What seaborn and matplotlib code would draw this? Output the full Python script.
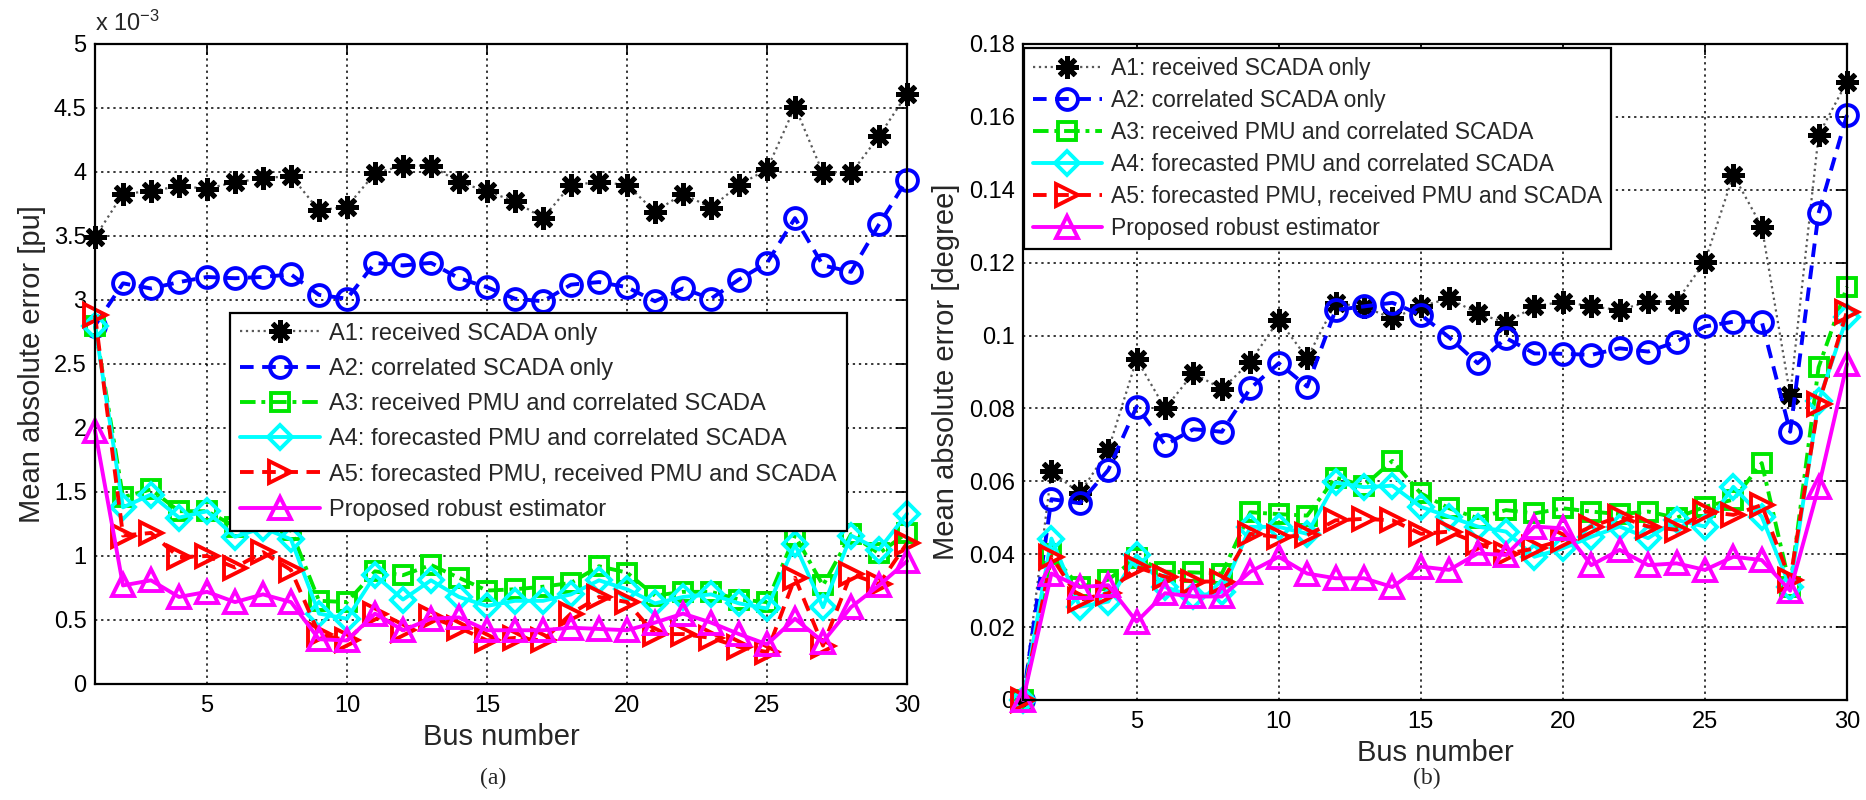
import numpy as np
import pandas as pd
import matplotlib
matplotlib.use("Agg")
import matplotlib.pyplot as plt
import matplotlib.ticker as mticker
import seaborn as sns

# ---------------- data ----------------
buses = list(range(1, 31))

labels = [
    "A1: received SCADA only",
    "A2: correlated SCADA only",
    "A3: received PMU and correlated SCADA",
    "A4: forecasted PMU and correlated SCADA",
    "A5: forecasted PMU, received PMU and SCADA",
    "Proposed robust estimator",
]

# (a) magnitude MAE, in units of 1e-3 pu
a1_pu = [3.49, 3.83, 3.85, 3.89, 3.87, 3.92, 3.95, 3.97, 3.70, 3.73, 3.99, 4.05, 4.05, 3.92, 3.85,
         3.77, 3.64, 3.90, 3.92, 3.90, 3.69, 3.83, 3.72, 3.90, 4.02, 4.51, 3.99, 3.99, 4.28, 4.61]
a2_pu = [2.80, 3.13, 3.09, 3.14, 3.18, 3.17, 3.18, 3.20, 3.04, 3.01, 3.29, 3.27, 3.29, 3.17, 3.10,
         3.01, 2.99, 3.12, 3.14, 3.10, 2.99, 3.09, 3.01, 3.16, 3.29, 3.64, 3.27, 3.22, 3.59, 3.94]
a3_pu = [2.80, 1.46, 1.52, 1.35, 1.35, 1.23, 1.27, 1.20, 0.65, 0.64, 0.88, 0.85, 0.93, 0.83, 0.73,
         0.74, 0.76, 0.79, 0.92, 0.87, 0.69, 0.72, 0.72, 0.66, 0.64, 1.16, 0.77, 1.17, 1.02, 1.18]
a4_pu = [2.80, 1.38, 1.48, 1.30, 1.35, 1.15, 1.22, 1.13, 0.55, 0.51, 0.85, 0.66, 0.81, 0.68, 0.61,
         0.65, 0.65, 0.70, 0.81, 0.74, 0.63, 0.68, 0.70, 0.63, 0.59, 1.09, 0.60, 1.16, 1.05, 1.33]
a5_pu = [2.88, 1.16, 1.18, 0.99, 1.00, 0.91, 1.03, 0.89, 0.39, 0.34, 0.55, 0.42, 0.52, 0.44, 0.34,
         0.36, 0.34, 0.55, 0.68, 0.64, 0.39, 0.39, 0.36, 0.29, 0.25, 0.83, 0.30, 0.86, 0.78, 1.10]
prop_pu = [1.98, 0.77, 0.81, 0.68, 0.72, 0.64, 0.70, 0.64, 0.35, 0.34, 0.55, 0.42, 0.51, 0.52, 0.42,
           0.42, 0.42, 0.44, 0.43, 0.42, 0.48, 0.55, 0.48, 0.39, 0.31, 0.51, 0.33, 0.60, 0.77, 0.96]

# (b) angle MAE, degree
a1_deg = [0, 0.0627, 0.0567, 0.0686, 0.0935, 0.0800, 0.0897, 0.0853, 0.0928, 0.1043, 0.0938, 0.1089,
          0.1079, 0.1047, 0.1080, 0.1102, 0.1061, 0.1035, 0.1080, 0.1093, 0.1080, 0.1070, 0.1093,
          0.1093, 0.1203, 0.1441, 0.1299, 0.0837, 0.1550, 0.1697]
a2_deg = [0, 0.0551, 0.0540, 0.0631, 0.0805, 0.0700, 0.0743, 0.0736, 0.0855, 0.0924, 0.0860, 0.1070,
          0.1080, 0.1090, 0.1057, 0.0995, 0.0924, 0.0993, 0.0951, 0.0950, 0.0947, 0.0965, 0.0956,
          0.0983, 0.1025, 0.1038, 0.1038, 0.0736, 0.1336, 0.1605]
a3_deg = [0, 0.0400, 0.0310, 0.0330, 0.0390, 0.0352, 0.0350, 0.0347, 0.0515, 0.0510, 0.0506, 0.0610,
          0.0588, 0.0656, 0.0567, 0.0526, 0.0499, 0.0521, 0.0512, 0.0526, 0.0517, 0.0510, 0.0517,
          0.0500, 0.0530, 0.0550, 0.0650, 0.0310, 0.0913, 0.1134]
a4_deg = [0, 0.0443, 0.0256, 0.0270, 0.0397, 0.0310, 0.0284, 0.0297, 0.0475, 0.0475, 0.0456, 0.0597,
          0.0584, 0.0588, 0.0530, 0.0503, 0.0476, 0.0462, 0.0393, 0.0416, 0.0448, 0.0476, 0.0444,
          0.0494, 0.0476, 0.0585, 0.0503, 0.0310, 0.0820, 0.1050]
a5_deg = [0, 0.0393, 0.0275, 0.0293, 0.0365, 0.0338, 0.0325, 0.0325, 0.0456, 0.0447, 0.0452, 0.0493,
          0.0497, 0.0493, 0.0456, 0.0462, 0.0430, 0.0400, 0.0416, 0.0439, 0.0476, 0.0503, 0.0476,
          0.0467, 0.0517, 0.0508, 0.0535, 0.0330, 0.0813, 0.1066]
prop_deg = [0, 0.0347, 0.0310, 0.0315, 0.0215, 0.0293, 0.0284, 0.0284, 0.0352, 0.0393, 0.0347, 0.0334,
            0.0334, 0.0310, 0.0366, 0.0357, 0.0402, 0.0398, 0.0476, 0.0471, 0.0370, 0.0412, 0.0370,
            0.0375, 0.0357, 0.0393, 0.0384, 0.0300, 0.0584, 0.0922]

x_ticks = [5, 10, 15, 20, 25, 30]
y_ticks_a = [0, 0.5, 1, 1.5, 2, 2.5, 3, 3.5, 4, 4.5, 5]
y_ticks_b = [0, 0.02, 0.04, 0.06, 0.08, 0.1, 0.12, 0.14, 0.16, 0.18]

# ---------------- style ----------------
sns.set_style("white")
plt.rcParams["font.family"] = ["Liberation Sans", "DejaVu Sans"]
plt.rcParams["mathtext.fontset"] = "custom"
plt.rcParams["mathtext.rm"] = "Liberation Sans"
plt.rcParams["mathtext.it"] = "Liberation Sans"

styles = [
    dict(color="black", linestyle=":", marker=(8, 2, 0), markersize=16, markeredgewidth=3.6,
         markerfacecolor="black", markeredgecolor="black", linewidth=1.6, line_color="0.35"),
    dict(color="#0000ff", linestyle=(0, (3.5, 2.2)), marker="o", markersize=15, markeredgewidth=2.8,
         markerfacecolor="none", markeredgecolor="#0000ff", linewidth=2.8),
    dict(color="#00e600", linestyle=(0, (4, 1.5, 1, 1.5)), marker="s", markersize=13, markeredgewidth=2.8,
         markerfacecolor="none", markeredgecolor="#00e600", linewidth=2.8),
    dict(color="#00ffff", linestyle="-", marker="D", markersize=12, markeredgewidth=2.8,
         markerfacecolor="none", markeredgecolor="#00ffff", linewidth=2.8),
    dict(color="#ff0000", linestyle=(0, (3.5, 2.2)), marker=">", markersize=16, markeredgewidth=2.8,
         markerfacecolor="none", markeredgecolor="#ff0000", linewidth=2.8),
    dict(color="#ff00ff", linestyle="-", marker="^", markersize=16, markeredgewidth=2.8,
         markerfacecolor="none", markeredgecolor="#ff00ff", linewidth=2.8),
]

W, H = 1866, 800
fig = plt.figure(figsize=(W / 100, H / 100), dpi=100)
fig.patch.set_facecolor("white")

ax_a = fig.add_axes([95 / W, (H - 684) / H, 812 / W, 640 / H])
ax_b = fig.add_axes([1023 / W, (H - 700) / H, 824 / W, 656 / H])


def draw(ax, series):
    for vals, lab, st in zip(series, labels, styles):
        st = dict(st)
        lc = st.pop("line_color", None)
        col = st.pop("color")
        df = pd.DataFrame({"bus": buses, "v": vals})
        sns.lineplot(data=df, x="bus", y="v", ax=ax, color=lc if lc else col,
                     label=lab, zorder=3, clip_on=False, **st)


draw(ax_a, [np.array(s) * 1e-3 for s in (a1_pu, a2_pu, a3_pu, a4_pu, a5_pu, prop_pu)])
draw(ax_b, [a1_deg, a2_deg, a3_deg, a4_deg, a5_deg, prop_deg])


def frame(ax, yticks, ylim, ylabel, fmt):
    ax.set_xlim(1, 30)
    ax.set_ylim(*ylim)
    ax.set_xticks(x_ticks)
    ax.set_yticks(yticks)
    ax.yaxis.set_major_formatter(mticker.FuncFormatter(fmt))
    ax.grid(True, color="black", linestyle=(0, (1.5, 2.5)), linewidth=1.1)
    ax.set_axisbelow(True)
    for s in ax.spines.values():
        s.set_color("black")
        s.set_linewidth(1.6)
        s.set_zorder(5)
    ax.tick_params(direction="in", length=8, width=1.2, top=True, right=True,
                   labelsize=17, colors="black", pad=8)
    ax.tick_params(axis="y", pad=6)
    ax.set_xlabel("Bus number", fontsize=21, labelpad=4)
    ax.set_ylabel(ylabel, fontsize=21, labelpad=6)


frame(ax_a, [v * 1e-3 for v in y_ticks_a], (0, 5e-3), "Mean absolute error [pu]",
      lambda v, p: f"{v * 1e3:g}")
frame(ax_b, y_ticks_b, (0, 0.18), "Mean absolute error [degree]",
      lambda v, p: f"{v:g}")

ax_a.text(0.0, 1.012, r"x 10$^{-3}$", transform=ax_a.transAxes, ha="left", va="bottom",
          fontsize=17)

leg_a = ax_a.legend(loc="upper left", bbox_to_anchor=(0.166, 0.580), borderaxespad=0,
                    fontsize=17, handlelength=3.4, handletextpad=0.4, labelspacing=0.56,
                    borderpad=0.42, fancybox=False, framealpha=1, edgecolor="black")
leg_a.get_frame().set_linewidth(1.6)
leg_a.set_zorder(10)

leg_b = ax_b.legend(loc="upper left", bbox_to_anchor=(0.0015, 0.994), borderaxespad=0,
                    fontsize=16.5, handlelength=3.0, handletextpad=0.4, labelspacing=0.4,
                    borderpad=0.38, fancybox=False, framealpha=1, edgecolor="black")
leg_b.get_frame().set_linewidth(1.6)
leg_b.set_zorder(10)

fig.text(493 / W, 1 - 778 / H, "(a)", ha="center", va="center", fontsize=17,
         family="Liberation Serif")
fig.text(1427 / W, 1 - 778 / H, "(b)", ha="center", va="center", fontsize=17,
         family="Liberation Serif")

fig.savefig("out.png", dpi=100, facecolor="white")
